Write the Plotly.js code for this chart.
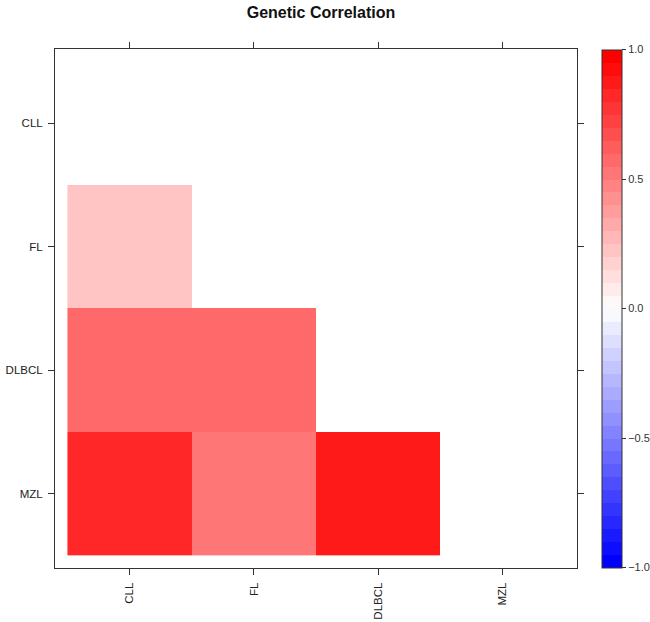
<!DOCTYPE html>
<html>
<head>
<meta charset="utf-8">
<script src="https://cdn.plot.ly/plotly-3.0.1.min.js"></script>
<style>html,body{margin:0;padding:0;background:#fff;}#chart{width:650px;height:622px;}</style>
</head>
<body>
<div id="chart"></div>
<script>
// Data
var traits = ["CLL", "FL", "DLBCL", "MZL"];
var rowCLL   = [null, null, null, null];
var rowFL    = [0.22, null, null, null];
var rowDLBCL = [0.57, 0.57, null, null];
var rowMZL   = [0.82, 0.52, 0.87, null];
var colorbarTicks = [-1.0, -0.5, 0.0, 0.5, 1.0];

var zMatrix = [rowCLL, rowFL, rowDLBCL, rowMZL];

// Stepped blue-white-red palette (40 bands from -1 to 1)
var nBands = 40;
function ramp(t) {
  var r, g, b;
  if (t <= 0.5) { var s = t * 2; r = Math.round(255 * s); g = Math.round(255 * s); b = 255; }
  else { var s2 = (1 - t) * 2; r = 255; g = Math.round(255 * s2); b = Math.round(255 * s2); }
  return "rgb(" + r + "," + g + "," + b + ")";
}
var cscale = [];
for (var i = 0; i < nBands; i++) {
  var c = ramp(i / (nBands - 1));
  cscale.push([i / nBands, c]);
  cscale.push([(i + 1) / nBands, c]);
}

var font = {family: "Liberation Sans, Arial, sans-serif", size: 11.5, color: "#222"};

var trace = {
  type: "heatmap",
  x: traits,
  y: traits,
  z: zMatrix,
  zmin: -1, zmax: 1,
  colorscale: cscale,
  hoverongaps: false,
  colorbar: {
    x: 602 / 650, xanchor: "left", xref: "container",
    y: 0.5, yanchor: "middle", yref: "paper",
    thickness: 20, thicknessmode: "pixels",
    len: 518, lenmode: "pixels",
    outlinecolor: "#333", outlinewidth: 1,
    ticks: "outside", ticklen: 4, tickcolor: "#333",
    tickvals: colorbarTicks, tickformat: ".1f",
    tickfont: {family: "Liberation Sans, Arial, sans-serif", size: 11, color: "#333"},
    xpad: 0, ypad: 0, borderwidth: 0
  }
};

var layout = {
  width: 650, height: 622,
  margin: {l: 55, r: 73, t: 49, b: 54, autoexpand: false},
  paper_bgcolor: "#fff", plot_bgcolor: "#fff",
  title: {
    text: "<b>Genetic Correlation</b>",
    font: {family: "Liberation Sans, Arial, sans-serif", size: 16, color: "#111"},
    x: 321 / 650, xanchor: "center", xref: "container",
    y: 1 - 12 / 622, yanchor: "middle", yref: "container"
  },
  xaxis: {
    type: "category",
    range: [-0.6, 3.6],
    showgrid: false, zeroline: false,
    showline: true, linecolor: "#333", linewidth: 1, mirror: "ticks",
    ticks: "outside", ticklen: 6, tickcolor: "#333",
    tickangle: -90, tickfont: font,
    ticklabelstandoff: 3
  },
  yaxis: {
    type: "category",
    range: [3.6, -0.6],
    showgrid: false, zeroline: false,
    showline: true, linecolor: "#333", linewidth: 1, mirror: "ticks",
    ticks: "outside", ticklen: 6, tickcolor: "#333",
    tickfont: font,
    ticklabelstandoff: 3
  }
};

Plotly.newPlot("chart", [trace], layout, {displayModeBar: false, staticPlot: true});
</script>
</body>
</html>
